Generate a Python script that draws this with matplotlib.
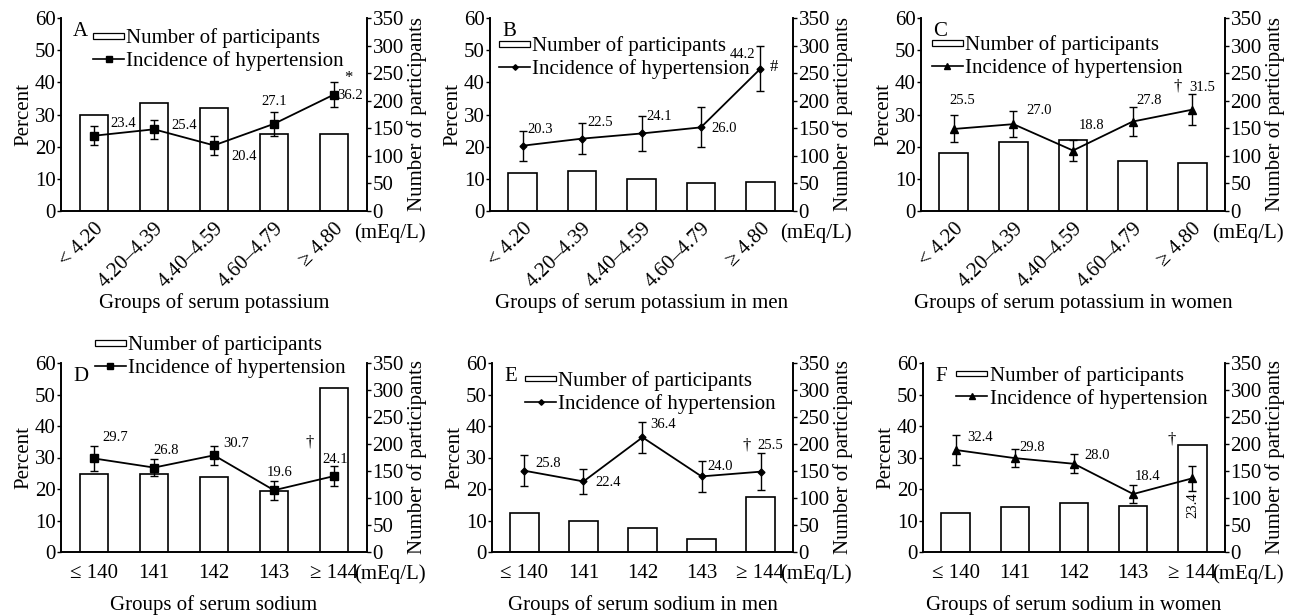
import matplotlib
matplotlib.use("Agg")
import matplotlib.pyplot as plt
from matplotlib.patches import Rectangle
from matplotlib.lines import Line2D
from matplotlib.legend_handler import HandlerPatch

plt.rcParams['font.family'] = ['Liberation Serif', 'DejaVu Serif']

# ------------------------------------------------------
# data
# ------------------------------------------------------
k_groups = ["< 4.20", "4.20\u20134.39", "4.40\u20134.59", "4.60\u20134.79", "\u2265 4.80"]
na_groups = ["\u2264 140", "141", "142", "143", "\u2265 144"]

n_A = [174, 195, 186, 140, 140]
n_B = [69, 72, 58, 51, 52]
n_C = [105, 126, 128, 90, 87]
n_D = [145, 144, 138, 113, 303]
n_E = [72, 58, 45, 25, 102]
n_F = [73, 84, 90, 85, 198]

inc_A = [23.4, 25.4, 20.4, 27.1, 36.2]
inc_B = [20.3, 22.5, 24.1, 26.0, 44.2]
inc_C = [25.5, 27.0, 18.8, 27.8, 31.5]
inc_D = [29.7, 26.8, 30.7, 19.6, 24.1]
inc_E = [25.8, 22.4, 36.4, 24.0, 25.5]
inc_F = [32.4, 29.8, 28.0, 18.4, 23.4]

err_A = [3.0, 3.0, 3.0, 3.8, 4.0]
err_B = [4.7, 4.8, 5.5, 6.2, 7.0]
err_C = [4.2, 4.0, 3.4, 4.6, 4.9]
err_D = [4.0, 2.8, 3.0, 3.0, 3.1]
err_E = [5.0, 4.0, 5.0, 4.9, 5.9]
err_F = [4.9, 2.8, 3.0, 2.9, 3.9]

sig_marks = ["*", "#", "\u2020", "\u2020", "\u2020", "\u2020"]
xlabels = ["Groups of serum potassium", "Groups of serum potassium in men",
           "Groups of serum potassium in women", "Groups of serum sodium",
           "Groups of serum sodium in men", "Groups of serum sodium in women"]

# ------------------------------------------------------
# layout (pixels) and label offsets
# ------------------------------------------------------
W, H = 1295, 616
boxes = [(61, 18, 306, 193), (490, 18, 303, 193), (921, 18, 304, 193),
         (61, 363, 306, 189), (492, 363, 301, 189), (923, 363, 302, 189)]
markers = ['s', 'D', '^', 's', 'D', '^']
msizes = [5.5, 3.5, 6, 5.5, 3.5, 6]

# (dx, dy, ha) in pixels for the value labels
lab_off = [
    [(16, 12, 'left'), (17, 4, 'left'), (17, -11, 'left'), (0, 22, 'center'), (3, -1, 'left')],
    [(5, 16, 'left'), (5, 16, 'left'), (5, 17, 'left'), (10, -1, 'left'), (-5, 14, 'right')],
    [(8, 28, 'center'), (13, 14, 'left'), (6, 25, 'left'), (4, 21, 'left'), (-3, 22, 'left')],
    [(8, 21, 'left'), (-1, 17, 'left'), (9, 12, 'left'), (-7, 18, 'left'), (-12, 17, 'left')],
    [(11, 7, 'left'), (12, -1, 'left'), (8, 13, 'left'), (6, 10, 'left'), (-3, 26, 'left')],
    [(12, 12, 'left'), (5, 11, 'left'), (10, 8, 'left'), (2, 18, 'left'), (0, -27, 'center')],
]
sig_off = [(14, 17), (14, 2), (-15, 23), (-24, 34), (-14, 26), (-21, 39)]
leg_pos = [(0.105, 0.948), (0.03, 0.906), (0.035, 0.91), (0.11, 1.148), (0.11, 0.958), (0.11, 0.985)]

class ThinBox(HandlerPatch):
    def create_artists(self, legend, orig, xd, yd, w, h, fs, trans):
        p = Rectangle((-xd, -yd + h * 0.3), w, h * 0.4, facecolor='white',
                      edgecolor='black', lw=0.9, transform=trans)
        return [p]

fig = plt.figure(figsize=(W / 100, H / 100), dpi=100)

panels = [(n_A, inc_A, err_A), (n_B, inc_B, err_B), (n_C, inc_C, err_C),
          (n_D, inc_D, err_D), (n_E, inc_E, err_E), (n_F, inc_F, err_F)]
letters = "ABCDEF"
FS = 15

for i, (n, inc, err) in enumerate(panels):
    l, t, w, h = boxes[i]
    ax = fig.add_axes([l / W, (H - t - h) / H, w / W, h / H])
    ax2 = ax.twinx()
    x = list(range(5))
    ax2.bar(x, n, width=0.48, facecolor='white', edgecolor='black', linewidth=1.2)
    ax2.set_ylim(0, 350)
    ax2.set_yticks(range(0, 351, 50))
    ax2.set_ylabel("Number of participants", fontsize=FS, labelpad=2)

    ax.errorbar(x, inc, yerr=err, color='black', lw=1.3, marker=markers[i],
                ms=msizes[i], capsize=3, capthick=1.0, elinewidth=1.0)
    ax.set_zorder(ax2.get_zorder() + 1)
    ax.patch.set_visible(False)
    ax.set_ylim(0, 60)
    ax.set_yticks(range(0, 61, 10))
    ax.set_xlim(-0.55, 4.55)
    ax.set_ylabel("Percent", fontsize=FS, labelpad=1)

    for a in (ax, ax2):
        a.spines['top'].set_visible(False)
        for s in a.spines.values():
            s.set_linewidth(1.2)
        a.tick_params(axis='y', labelsize=FS, length=3, width=1.0, pad=1)
        a.tick_params(axis='x', length=0)

    ax.set_xticks(x)
    if i < 3:
        ax.set_xticklabels(k_groups, fontsize=FS, rotation=45, ha='right',
                           rotation_mode='anchor')
        ax.tick_params(axis='x', pad=6)
        ax.set_xlabel(xlabels[i], fontsize=FS, labelpad=1)
    else:
        ax.set_xticklabels(na_groups, fontsize=FS)
        ax.tick_params(axis='x', pad=9)
        ax.set_xlabel(xlabels[i], fontsize=FS, labelpad=8)
    ax.annotate("(mEq/L)", xy=(1, 0), xycoords='axes fraction', xytext=(23, -22),
                textcoords='offset pixels', ha='center', va='center', fontsize=FS)

    for j in x:
        dx, dy, ha = lab_off[i][j]
        rot = 90 if (i == 5 and j == 4) else 0
        ax.annotate(f"{inc[j]:.1f}", xy=(j, inc[j]), xytext=(dx, dy),
                    textcoords='offset pixels', ha=ha, va='center',
                    fontsize=10.5, rotation=rot)
    sx, sy = sig_off[i]
    ax.annotate(sig_marks[i], xy=(4, inc[4]), xytext=(sx, sy),
                textcoords='offset pixels', ha='center', va='center', fontsize=12)

    ax.text(0.04, 0.93, letters[i], transform=ax.transAxes,
            fontsize=FS, va='center', ha='left')

    h_bar = Rectangle((0, 0), 1, 1)
    h_line = Line2D([], [], color='black', lw=1.2, marker=markers[i], ms=msizes[i] * 0.8)
    ax.legend([h_bar, h_line], ["Number of participants", "Incidence of hypertension"],
              handler_map={Rectangle: ThinBox()}, loc='upper left',
              bbox_to_anchor=leg_pos[i], frameon=False, fontsize=FS,
              handlelength=1.5, handletextpad=0.1, borderpad=0, labelspacing=0.15,
              borderaxespad=0)

fig.savefig("out.png", dpi=100)
